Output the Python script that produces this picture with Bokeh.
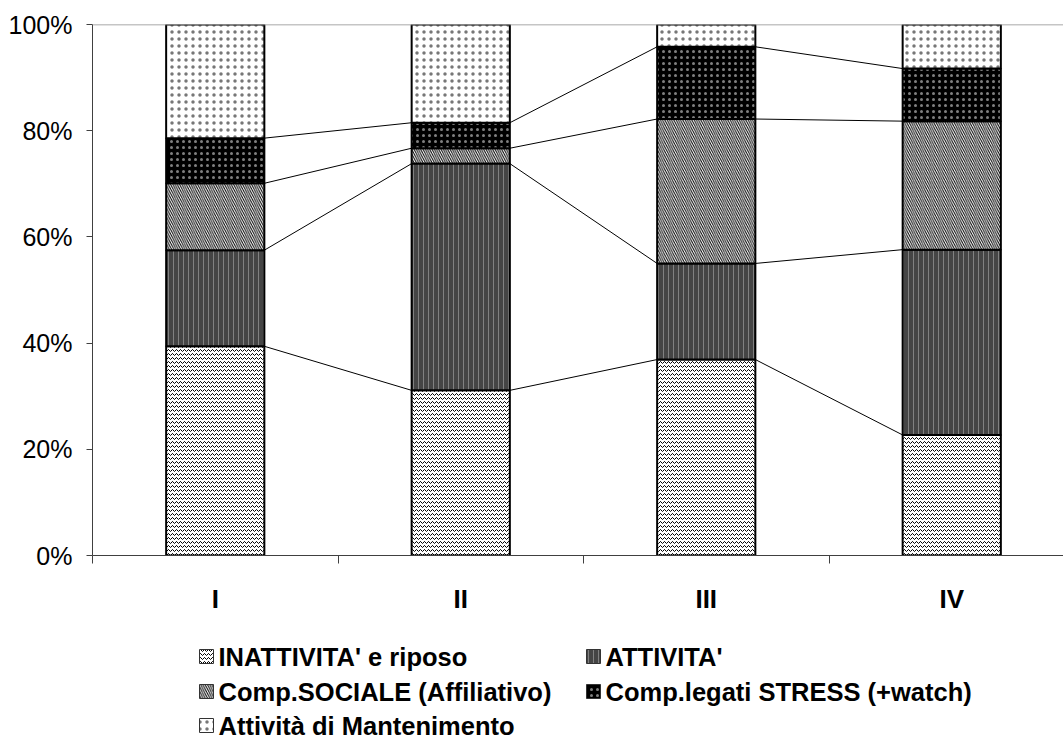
from bokeh.plotting import figure
from bokeh.models import Range1d, FixedTicker, Span
from bokeh.layouts import column
from bokeh.embed import file_html
from bokeh.resources import INLINE
from bokeh.core.properties import value
import numpy as np

# ---- data (percent of time per behaviour class, per period) ----
categories = ["I", "II", "III", "IV"]
series_names = [
    "INATTIVITA' e riposo",
    "ATTIVITA'",
    "Comp.SOCIALE (Affiliativo)",
    "Comp.legati STRESS (+watch)",
    "Attività di Mantenimento",
]
inattivita = [39.4, 31.1, 36.9, 22.7]
attivita = [18.1, 42.7, 18.1, 34.9]
sociale = [12.6, 2.9, 27.2, 24.2]
stress = [8.5, 4.8, 13.6, 9.9]
mantenimento = [21.4, 18.5, 4.2, 8.3]
y_ticks = [0, 20, 40, 60, 80, 100]

series_values = [inattivita, attivita, sociale, stress, mantenimento]

# ---- fill styles (pattern fills, one per series) ----
styles = [
    dict(fill_color="white", hatch_pattern="horizontal_wave", hatch_color="black",
         hatch_scale=4, hatch_weight=1),
    dict(fill_color="#454545", hatch_pattern="vertical_line", hatch_color="#9a9a9a",
         hatch_scale=5, hatch_weight=1, hatch_alpha=0.7),
    dict(fill_color="white", hatch_pattern="left_diagonal_line", hatch_color="black",
         hatch_scale=4.5, hatch_weight=1),
    dict(fill_color="black", hatch_pattern="dot", hatch_color="white",
         hatch_scale=6, hatch_weight=1, hatch_alpha=0.5),
    dict(fill_color="white", hatch_pattern="dot", hatch_color="#777777",
         hatch_scale=7, hatch_weight=1),
]

FONT = "Liberation Sans"
W, H_MAIN, H_LEG = 1063, 620, 122
FRAME_L, FRAME_T, FRAME_B = 92, 24, 555
CAT_PX = 245.5
BAR_W = 0.4

x_end = (W - FRAME_L) / CAT_PX
centers = np.arange(len(categories)) + 0.5

p = figure(width=W, height=H_MAIN, x_range=Range1d(0, x_end), y_range=Range1d(0, 100),
           output_backend="svg", toolbar_location=None,
           min_border_left=FRAME_L, min_border_right=0, min_border_top=FRAME_T,
           min_border_bottom=H_MAIN - FRAME_B)
p.xgrid.visible = False
p.ygrid.visible = False
p.outline_line_color = None
p.background_fill_color = "white"
p.border_fill_color = "white"

# top border line of the plot area
p.add_layout(Span(location=100, dimension="width", line_color="#8c8c8c", line_width=1.5))

# stacked bars
vals = np.array(series_values, dtype=float)
tops = np.cumsum(vals, axis=0)
bottoms = tops - vals
for i, name in enumerate(series_names):
    p.vbar(x=centers, width=BAR_W, bottom=bottoms[i], top=tops[i],
           line_color="black", line_width=2, **styles[i])

# series lines joining the stack boundaries of neighbouring bars
for i in range(len(series_names) - 1):
    p.segment(x0=centers[:-1] + BAR_W / 2, y0=tops[i][:-1],
              x1=centers[1:] - BAR_W / 2, y1=tops[i][1:],
              line_color="black", line_width=1)

# y axis
ya = p.yaxis[0]
ya.ticker = FixedTicker(ticks=y_ticks, minor_ticks=[])
ya.major_label_overrides = {t: f"{t}%" for t in y_ticks}
ya.axis_line_color = "#404040"
ya.major_tick_line_color = "#404040"
ya.major_tick_out = 6
ya.major_tick_in = 0
ya.major_label_standoff = 14
ya.major_label_text_font = FONT
ya.major_label_text_font_size = "25px"
ya.major_label_text_color = "black"

# x axis: labels at the bar centres, ticks at the category borders
xa = p.xaxis[0]
xa.ticker = FixedTicker(ticks=list(centers), minor_ticks=list(range(len(categories) + 1)))
xa.major_label_overrides = {float(c): lab for c, lab in zip(centers, categories)}
xa.axis_line_color = "#404040"
xa.major_tick_out = 0
xa.major_tick_in = 0
xa.minor_tick_line_color = "#404040"
xa.minor_tick_out = 8
xa.minor_tick_in = 0
xa.major_label_standoff = 20
xa.major_label_text_font = FONT
xa.major_label_text_font_style = "bold"
xa.major_label_text_font_size = "26px"
xa.major_label_text_color = "black"

# ---- legend panel below the chart ----
# the column layout lines this frame up with the chart frame (left edge at FRAME_L),
# so the x range is chosen to make data x equal to page x
leg = figure(width=W, height=H_LEG, x_range=Range1d(FRAME_L, W), y_range=Range1d(H_LEG, 0),
             output_backend="svg", toolbar_location=None,
             x_axis_location=None, y_axis_location=None,
             min_border=0, min_border_left=FRAME_L, min_border_right=0,
             min_border_top=0, min_border_bottom=0)
leg.xgrid.visible = False
leg.ygrid.visible = False
leg.outline_line_color = None

col_x = [206, 593]
row_y = [656 - H_MAIN, 691 - H_MAIN, 725 - H_MAIN]
for i, name in enumerate(series_names):
    cx = col_x[i % 2]
    cy = row_y[i // 2]
    leg.rect(x=[cx], y=[cy], width=14, height=14, line_color="#333333", line_width=1,
             **styles[i])
    leg.text(x=[cx + 12], y=[cy], text=[name], text_font=value(FONT),
             text_font_style="bold", text_font_size="25.5px",
             text_baseline="middle", text_align="left", text_color="black")

layout = column(p, leg, spacing=0)
open("out.html", "w").write(file_html(layout, INLINE))
